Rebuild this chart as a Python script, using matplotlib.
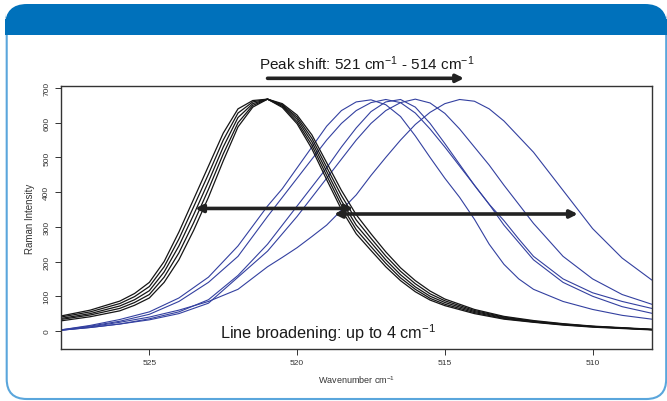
import matplotlib
matplotlib.use("Agg")
import matplotlib.pyplot as plt
from matplotlib.patches import FancyBboxPatch, Rectangle

plt.rcParams['font.family'] = ['Liberation Sans', 'DejaVu Sans']
plt.rcParams['mathtext.default'] = 'regular'

# Spektren: Raman-Intensitaet gegen Wellenzahl
black_x = [528, 527, 526, 525.5, 525, 524.5, 524, 523.5, 523, 522.5, 522, 521.5, 521, 520.5, 520,
           519.5, 519, 518.5, 518, 517.5, 517, 516.5, 516, 515.5, 515, 514, 513, 512, 511, 510, 508]
black_1 = [43, 60, 86, 108, 140, 200, 285, 380, 475, 570, 640, 664, 668, 655, 622, 565,
           485, 405, 335, 280, 228, 182, 145, 115, 92, 62, 42, 30, 21, 14, 5]
black_2 = [40, 55, 79, 99, 128, 185, 265, 358, 452, 550, 628, 660, 668, 652, 616, 555,
           472, 390, 320, 267, 216, 172, 136, 107, 87, 59, 40, 28, 20, 13, 4]
black_3 = [36, 50, 72, 90, 116, 170, 245, 335, 430, 530, 615, 655, 668, 650, 610, 545,
           460, 375, 305, 255, 205, 162, 127, 100, 82, 56, 38, 27, 19, 13, 4]
black_4 = [33, 46, 65, 82, 105, 155, 225, 312, 408, 510, 600, 650, 668, 647, 603, 535,
           448, 362, 292, 243, 195, 153, 120, 94, 77, 53, 36, 26, 18, 12, 4]
black_5 = [29, 41, 58, 74, 95, 140, 205, 290, 385, 490, 588, 645, 668, 644, 597, 525,
           436, 350, 280, 232, 185, 145, 113, 89, 73, 50, 34, 25, 17, 11, 3]

blue_x = [528, 527, 526, 525, 524, 523, 522, 521, 520.5, 520, 519.5, 519, 518.5, 518, 517.5,
          517, 516.5, 516, 515.5, 515, 514.5, 514, 513.5, 513, 512.5, 512, 511, 510, 509, 508]
blue_1 = [3, 16, 33, 55, 95, 155, 245, 360, 410, 470, 530, 590, 635, 660, 666,
          652, 618, 562, 500, 440, 385, 322, 250, 192, 150, 120, 85, 62, 45, 34]
blue_2 = [3, 14, 28, 48, 85, 140, 215, 330, 385, 440, 495, 550, 598, 635, 658,
          667, 658, 628, 582, 530, 475, 420, 365, 305, 255, 205, 140, 100, 70, 51]
blue_3 = [2, 10, 20, 35, 55, 90, 160, 250, 305, 360, 415, 470, 530, 585, 632,
          660, 667, 645, 598, 540, 480, 420, 365, 318, 265, 215, 150, 110, 85, 65]
blue_4 = [2, 10, 20, 32, 50, 80, 155, 230, 280, 330, 385, 440, 495, 550, 598,
          635, 658, 668, 657, 627, 582, 530, 478, 420, 365, 310, 215, 150, 105, 77]
blue_5 = [2, 12, 25, 40, 60, 85, 120, 185, 212, 240, 272, 305, 348, 392, 448,
          500, 550, 595, 630, 655, 667, 662, 640, 605, 560, 515, 405, 295, 210, 147]

black_curves = [black_1, black_2, black_3, black_4, black_5]
blue_curves = [blue_1, blue_2, blue_3, blue_4, blue_5]

x_ticks = [525, 520, 515, 510]
y_ticks = [0, 100, 200, 300, 400, 500, 600, 700]

W, H = 667, 402
fig = plt.figure(figsize=(W / 100, H / 100), dpi=100)
fig.patch.set_facecolor('white')

# Rahmen und blaue Kopfleiste in Pixelkoordinaten
bg = fig.add_axes([0, 0, 1, 1], zorder=0)
bg.set_xlim(0, W)
bg.set_ylim(H, 0)
bg.axis('off')
bg.add_patch(FancyBboxPatch((6.7, 8), 659.5, 392, boxstyle='round,pad=0,rounding_size=20',
                            fc='white', ec='#5aa6dc', lw=1.5))
bg.add_patch(FancyBboxPatch((5, 5), 662, 31, boxstyle='round,pad=0,rounding_size=22',
                            fc='#0071bb', ec='none'))
bg.add_patch(Rectangle((5, 20), 662, 16, fc='#0071bb', ec='none'))

ax = fig.add_axes([60.7 / W, 1 - 350 / H, 591 / W, 262.7 / H], zorder=1)
ax.patch.set_alpha(0)

for y in blue_curves:
    ax.plot(blue_x, y, color='#3340a0', lw=0.8)
for y in black_curves:
    ax.plot(black_x, y, color='#151515', lw=0.9)

ax.set_xlim(528, 508)
ax.set_ylim(-52, 705)
ax.set_xticks(x_ticks)
ax.set_yticks(y_ticks)
ax.tick_params(labelsize=6, colors='#333333', length=4, width=0.7)
for lab in ax.get_yticklabels():
    lab.set_rotation(90)
    lab.set_va('center')
for s in ax.spines.values():
    s.set_color('#333333')
    s.set_linewidth(1.0)
ax.set_xlabel('Wavenumber cm$^{-1}$', fontsize=6.5, color='#333333', labelpad=5)
ax.set_ylabel('Raman Intensity', fontsize=7, color='#333333', labelpad=6)

arrow_kw = dict(arrowstyle='<|-|>', color='#222222', lw=2.6, mutation_scale=11,
                shrinkA=0, shrinkB=0)
ax.annotate('', xy=(518.1, 353), xytext=(523.45, 353), arrowprops=arrow_kw)
ax.annotate('', xy=(510.5, 337), xytext=(518.75, 337), arrowprops=arrow_kw)
ax.annotate('', xy=(514.35, 728), xytext=(521.0, 728), annotation_clip=False,
            arrowprops=dict(arrowstyle='-|>', color='#222222', lw=2.6, mutation_scale=11,
                            shrinkA=0, shrinkB=0))

ax.text(517.65, 772, 'Peak shift: 521 cm$^{-1}$ - 514 cm$^{-1}$', ha='center', va='center',
        fontsize=11, color='#1a1a1a', clip_on=False)
ax.text(518.95, -4, 'Line broadening: up to 4 cm$^{-1}$', ha='center', va='center',
        fontsize=11.7, color='#1a1a1a')

fig.savefig('out.png', dpi=100, facecolor='white')
